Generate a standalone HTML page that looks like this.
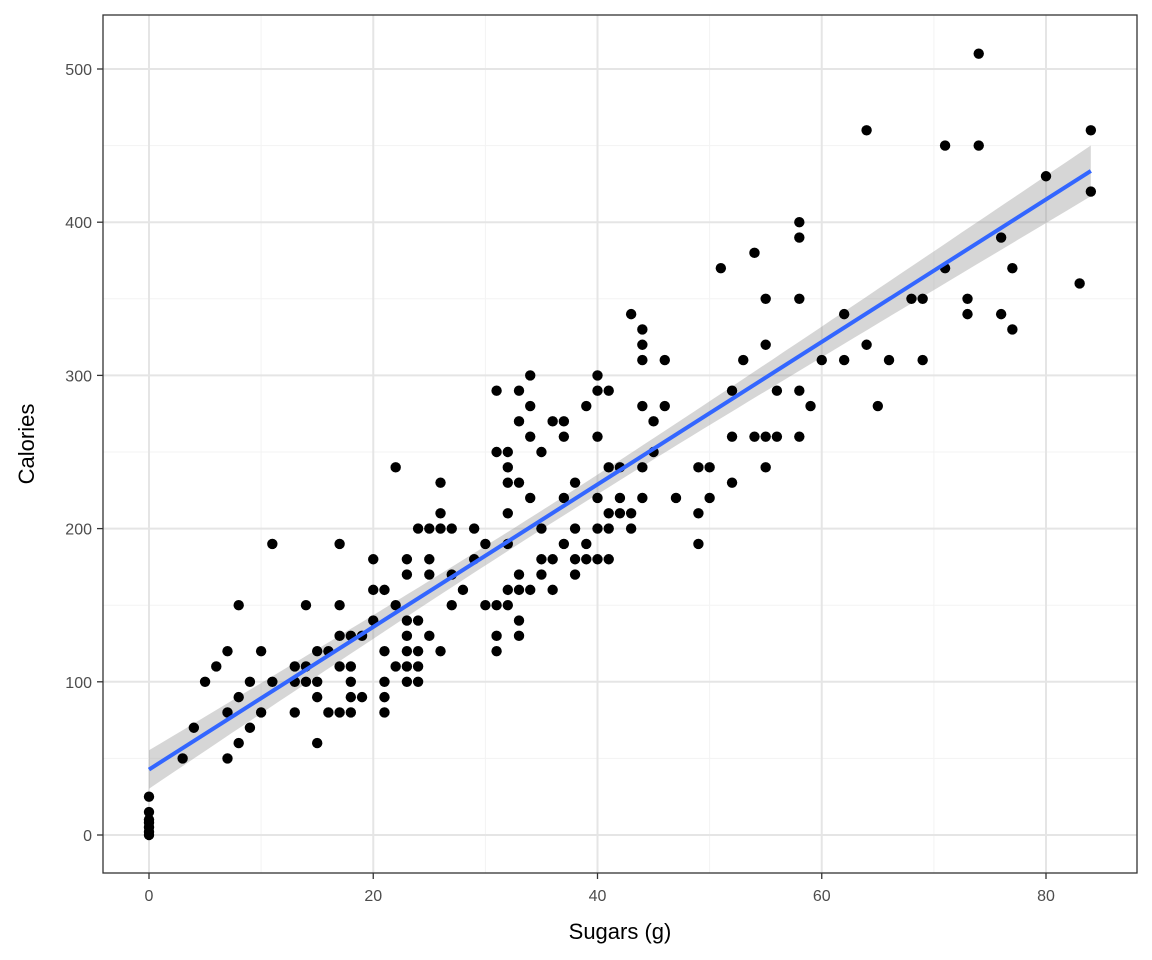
<!DOCTYPE html>
<html><head><meta charset="utf-8"><style>
body{margin:0;background:#fff;}
svg{display:block;font-family:"Liberation Sans",Arial,sans-serif;}
</style></head><body>
<svg id="chart" width="1152" height="960"></svg>
<script>
const xTicks=[0,20,40,60,80];
const yTicks=[0,100,200,300,400,500];
const xMinor=[10,30,50,70];
const yMinor=[50,150,250,350,450];
const sugars=[0,0,0,0,0,0,0,3,4,5,6,7,7,7,8,8,8,9,9,10,10,11,11,13,13,13,14,14,14,15,15,15,15,16,16,17,17,17,17,17,18,18,18,18,18,19,19,20,20,20,21,21,21,21,21,22,22,22,23,23,23,23,23,23,23,24,24,24,24,24,25,25,25,25,26,26,26,26,27,27,27,28,29,29,30,30,31,31,31,31,31,32,32,32,32,32,32,32,33,33,33,33,33,33,33,34,34,34,34,34,35,35,35,35,36,36,36,37,37,37,37,38,38,38,38,39,39,39,40,40,40,40,40,40,41,41,41,41,41,42,42,42,43,43,43,44,44,44,44,44,44,45,45,46,46,47,49,49,49,50,50,51,52,52,52,53,54,54,55,55,55,55,56,56,58,58,58,58,58,59,60,62,62,64,64,65,66,68,69,69,71,71,73,73,74,74,76,76,77,77,80,83,84,84];
const calories=[0,2,5,8,10,15,25,50,70,100,110,120,80,50,150,90,60,100,70,120,80,190,100,110,100,80,150,110,100,120,100,90,60,120,80,190,150,130,110,80,130,110,100,90,80,130,90,180,160,140,160,120,100,90,80,240,150,110,180,170,140,130,120,110,100,200,140,120,110,100,200,180,170,130,230,210,200,120,200,170,150,160,200,180,190,150,290,250,150,130,120,250,240,230,210,190,160,150,290,270,230,170,160,140,130,300,280,260,220,160,250,200,180,170,270,180,160,270,260,220,190,230,200,180,170,280,190,180,300,290,260,220,200,180,290,240,210,200,180,240,220,210,340,210,200,330,320,310,280,240,220,270,250,310,280,220,240,210,190,240,220,370,290,260,230,310,380,260,350,320,260,240,290,260,400,390,350,290,260,280,310,340,310,460,320,280,310,350,350,310,450,370,350,340,510,450,390,340,370,330,430,360,460,420];

const NS="http://www.w3.org/2000/svg";
const svg=document.getElementById('chart');
const L=103,R=1137,T=15,B=873;
const sx=v=>149+v*(1046-149)/80;
const sy=v=>835-v*(835-69)/500;
function mk(tag,attrs,parent){const e=document.createElementNS(NS,tag);for(const k in attrs)e.setAttribute(k,attrs[k]);(parent||svg).appendChild(e);return e;}

const panel=mk('rect',{x:L,y:T,width:R-L,height:B-T,fill:'#fff'});


xMinor.forEach(v=>{const l=mk('line',{x1:sx(v),x2:sx(v),y1:T,y2:B,stroke:'#f3f3f3','stroke-width':1});

});
yMinor.forEach(v=>{const l=mk('line',{x1:L,x2:R,y1:sy(v),y2:sy(v),stroke:'#f3f3f3','stroke-width':1});

});
xTicks.forEach(v=>{const l=mk('line',{x1:sx(v),x2:sx(v),y1:T,y2:B,stroke:'#e5e5e5','stroke-width':2});

});
yTicks.forEach(v=>{const l=mk('line',{x1:L,x2:R,y1:sy(v),y2:sy(v),stroke:'#e5e5e5','stroke-width':2});

});

const n=sugars.length;
const mx=sugars.reduce((a,b)=>a+b,0)/n, my=calories.reduce((a,b)=>a+b,0)/n;
let sxx=0,sxy=0;for(let i=0;i<n;i++){sxx+=(sugars[i]-mx)**2;sxy+=(sugars[i]-mx)*(calories[i]-my);}
const b1=sxy/sxx,b0=my-b1*mx;
let sse=0;for(let i=0;i<n;i++)sse+=(calories[i]-b0-b1*sugars[i])**2;
const s=Math.sqrt(sse/(n-2));
const xmin=Math.min(...sugars),xmax=Math.max(...sugars);
let up=[],lo=[];
for(let k=0;k<=80;k++){const x=xmin+(xmax-xmin)*k/80;const se=s*Math.sqrt(1/n+(x-mx)**2/sxx);const f=b0+b1*x;
up.push(sx(x).toFixed(1)+','+sy(f+1.97*se).toFixed(1));lo.unshift(sx(x).toFixed(1)+','+sy(f-1.97*se).toFixed(1));}
const band=mk('polygon',{points:up.concat(lo).join(' '),fill:'#999','fill-opacity':0.4});



for(let i=0;i<n;i++){const c=mk('circle',{cx:sx(sugars[i]),cy:sy(calories[i]),r:5.2,fill:'#000'});

}

const line=mk('line',{x1:sx(xmin),y1:sy(b0+b1*xmin),x2:sx(xmax),y2:sy(b0+b1*xmax),stroke:'#3366FF','stroke-width':4});



const border=mk('rect',{x:L,y:T,width:R-L,height:B-T,fill:'none',stroke:'#333','stroke-width':1.3});



xTicks.forEach(v=>{const t=mk('line',{x1:sx(v),x2:sx(v),y1:B,y2:B+6,stroke:'#333','stroke-width':1.3});


const tx=mk('text',{x:sx(v),y:B+28,'text-anchor':'middle','font-size':16,fill:'#4d4d4d'});tx.textContent=v;

});
yTicks.forEach(v=>{const t=mk('line',{x1:L-6,x2:L,y1:sy(v),y2:sy(v),stroke:'#333','stroke-width':1.3});


const tx=mk('text',{x:L-11,y:sy(v)+6,'text-anchor':'end','font-size':16,fill:'#4d4d4d'});tx.textContent=v;

});

const xt=mk('text',{x:(L+R)/2,y:939,'text-anchor':'middle','font-size':22,fill:'#000'});xt.textContent='Sugars (g)';


const yt=mk('text',{x:0,y:0,'text-anchor':'middle','font-size':22,fill:'#000',transform:`translate(34,${(T+B)/2}) rotate(-90)`});yt.textContent='Calories';


</script>
</body></html>
